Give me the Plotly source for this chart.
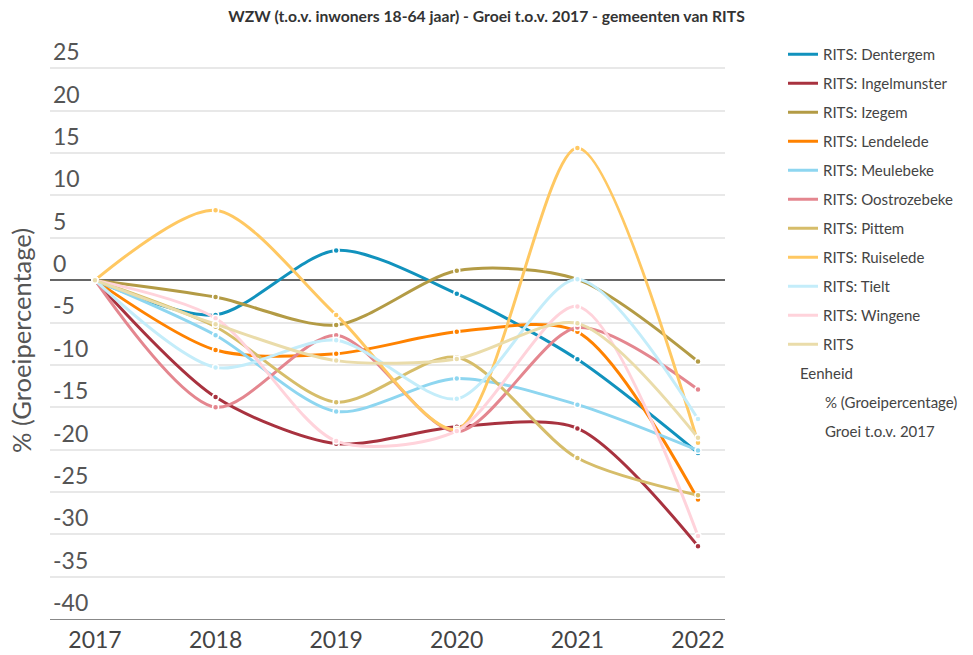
import plotly.graph_objects as go

years = [2017, 2018, 2019, 2020, 2021, 2022]

series_names = [
    "RITS: Dentergem", "RITS: Ingelmunster", "RITS: Izegem", "RITS: Lendelede",
    "RITS: Meulebeke", "RITS: Oostrozebeke", "RITS: Pittem", "RITS: Ruiselede",
    "RITS: Tielt", "RITS: Wingene", "RITS",
]

dentergem = [0, -4.1, 3.5, -1.6, -9.35, -20.4]
ingelmunster = [0, -13.8, -19.3, -17.3, -17.5, -31.4]
izegem = [0, -2.0, -5.3, 1.1, 0.1, -9.6]
lendelede = [0, -8.25, -8.7, -6.1, -6.1, -25.9]
meulebeke = [0, -6.5, -15.5, -11.6, -14.7, -20.1]
oostrozebeke = [0, -15.0, -6.5, -17.9, -5.6, -12.9]
pittem = [0, -5.5, -14.4, -9.1, -21.0, -25.4]
ruiselede = [0, 8.25, -4.1, -17.6, 15.6, -19.2]
tielt = [0, -10.3, -7.1, -14.0, 0.1, -16.4]
wingene = [0, -4.5, -19.0, -17.8, -3.1, -30.2]
rits = [0, -5.2, -9.5, -9.3, -5.1, -18.6]

series_values = [dentergem, ingelmunster, izegem, lendelede, meulebeke,
                 oostrozebeke, pittem, ruiselede, tielt, wingene, rits]

colors = ["#1192BD", "#A8323F", "#B39B45", "#FF8200", "#8ED6F0", "#E4868F",
          "#D6BD6A", "#FFC862", "#C4EDFA", "#FFD3DB", "#EADCAA"]

y_ticks = list(range(-40, 30, 5))
eenheid_lines = ["Eenheid", "% (Groeipercentage)", "Groei t.o.v. 2017"]

FONT = "Source Sans Pro, Lato, sans-serif"

# plot area geometry (pixels)
L, R, T, B = 50, 725, 26, 619
PW, PH = R - L, B - T

fig = go.Figure()
for i, (name, vals, col) in enumerate(zip(series_names, series_values, colors)):
    fig.add_trace(go.Scatter(
        x=years, y=vals, name=name, mode="lines",
        line=dict(color=col, width=3, shape="spline", smoothing=0.8),
        legendgroup=f"g{i}",
    ))
    fig.add_trace(go.Scatter(
        x=years, y=vals, name=name, mode="markers", showlegend=False,
        marker=dict(size=6, color=col, line=dict(color="white", width=1.5)),
        legendgroup=f"g{i}",
    ))

fig.update_layout(
    width=973, height=655,
    margin=dict(l=L, r=973 - R, t=T, b=655 - B, autoexpand=False),
    paper_bgcolor="white", plot_bgcolor="white",
    font=dict(family=FONT, color="#444"),
    title=dict(text="<b>WZW (t.o.v. inwoners 18-64 jaar) - Groei t.o.v. 2017 - gemeenten van RITS</b>",
               x=0.5, xanchor="center", y=1 - 17 / 655, yanchor="middle",
               font=dict(size=15.7, color="#333", family=FONT)),
    legend=dict(x=(783 - L) / PW, y=(B - 38) / PH, xanchor="left", yanchor="top",
                font=dict(size=15, color="#444", family=FONT),
                tracegroupgap=6.5, bgcolor="rgba(0,0,0,0)"),
    showlegend=True,
)

fig.update_xaxes(
    range=[2016.627, 2022.224], tickvals=years, ticktext=[str(y) for y in years],
    showgrid=False, zeroline=False, showline=True, linecolor="#888", linewidth=1,
    ticks="", tickfont=dict(size=23, color="#444", family=FONT),
)
fig.update_yaxes(
    range=[-40, 30], tickvals=y_ticks, ticktext=[str(v) for v in y_ticks],
    ticklabelposition="inside top", showgrid=True, gridcolor="#E8E8E8", gridwidth=1.5,
    zeroline=True, zerolinecolor="#666", zerolinewidth=2, showline=False, ticks="",
    tickfont=dict(size=23, color="#555", family=FONT),
)

fig.add_annotation(
    text="% (Groeipercentage)", textangle=-90, xref="paper", yref="paper",
    x=(21 - L) / PW, y=(B - 341) / PH, xanchor="center", yanchor="middle",
    showarrow=False, font=dict(size=25.5, color="#555", family=FONT),
)

ann_pos = [(798, 373), (823, 402), (823, 431)]
for txt, (px, py) in zip(eenheid_lines, ann_pos):
    fig.add_annotation(
        text=txt, xref="paper", yref="paper",
        x=(px - L) / PW, y=(B - py) / PH, xanchor="left", yanchor="middle",
        showarrow=False, font=dict(size=15, color="#444", family=FONT),
    )

fig.write_html("out.html", config={"displayModeBar": False},
               post_script="document.body.style.margin='0';")
